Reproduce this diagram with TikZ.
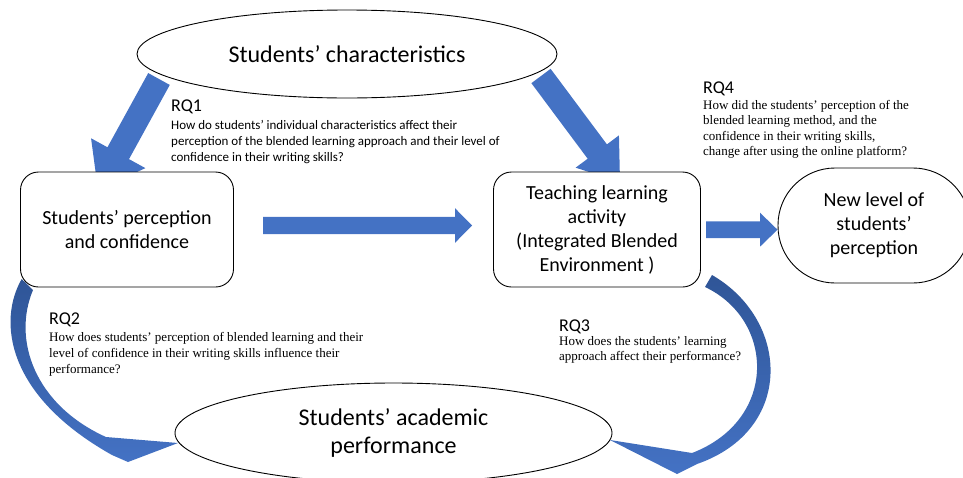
\documentclass[tikz,border=0pt]{standalone}
\usepackage{fontspec}
\setmainfont{Carlito}
\newfontfamily\timesfont{Liberation Serif}
\usetikzlibrary{calc,shapes.geometric}
\definecolor{officeblue}{HTML}{4472C4}
\definecolor{deepblue}{HTML}{2F5597}
\pgfdeclarelayer{arrowlayer}
\pgfsetlayers{arrowlayer,main}
% start, tip, shaft half width, head half width, head length
\newcommand\blockarrow[5]{%
  \path (#2) coordinate (baT) ($(#2)!#5!(#1)$) coordinate (baB);
  \fill[officeblue] ($(#1)!#3!90:(baT)$) -- ($(baB)!#3!90:(baT)$) -- ($(baB)!#4!90:(baT)$)
    -- (baT) -- ($(baB)!#4!-90:(baT)$) -- ($(baB)!#3!-90:(baT)$) -- ($(#1)!#3!-90:(baT)$) -- cycle;
}
\begin{document}
\begin{tikzpicture}[x=1pt,y=-1pt,
  outline/.style={draw=black, line width=0.9pt, fill=white, inner sep=0pt, align=center},
  oval/.style={outline, ellipse, font=\fontsize{24}{28}\selectfont},
  roundbox/.style={outline, rectangle, rounded corners=18pt, font=\fontsize{20}{24}\selectfont},
  rqlabel/.style={anchor=base west, inner sep=0pt, font=\fontsize{18}{20}\selectfont},
  rqsans/.style={anchor=north west, inner sep=0pt, align=left, font=\fontsize{13}{16}\selectfont},
  rqserif/.style={anchor=north west, inner sep=0pt, align=left, font=\timesfont\fontsize{13}{15.6}\selectfont},
  curvedarrow/.style={top color=deepblue, bottom color=officeblue, draw=none}
]
\useasboundingbox (0,0) rectangle (963,477);
\clip (0,0) rectangle (963,477);

% main shapes
\node[oval, minimum width=420pt, minimum height=88pt] (chars) at (347,54) {Students’ characteristics};
\node[oval, minimum width=437pt, minimum height=100pt] (perf) at (393.5,433) {Students’ academic\\performance};
\node[roundbox, minimum width=213pt, minimum height=115pt] (percep) at (127,229.5) {Students’ perception\\and confidence};
\node[roundbox, minimum width=207pt, minimum height=115pt] (tla) at (597,229.5) {Teaching learning\\activity\\(Integrated Blended\\Environment )};
\node[roundbox, rounded corners=57pt, minimum width=192pt, minimum height=115pt] (newlvl) at (874,225.5) {New level of\\students’\\perception};

% research questions
\node[rqlabel] (rq1) at (171,111.5) {RQ1};
\node[rqsans] (rq1text) at (171,117.8) {\strut How do students’ individual characteristics affect their\\perception of the blended learning approach and their level of\\confidence in their writing skills?};
\node[rqlabel] (rq2) at (49,324) {RQ2};
\node[rqserif] (rq2text) at (49,330.8) {\strut How does students’ perception of blended learning and their\\level of confidence in their writing skills influence their\\performance?};
\node[rqlabel] (rq3) at (559,331) {RQ3};
\node[rqserif] (rq3text) at (559,334) {\strut How does the students’ learning\\approach affect their performance?};
\node[rqlabel] (rq4) at (703,93.3) {RQ4};
\node[rqserif] (rq4text) at (703,98) {\strut How did the students’ perception of the\\blended learning method, and the\\confidence in their writing skills,\\change after using the online platform?};

\begin{pgfonlayer}{arrowlayer}
  % straight block arrows
  \coordinate (a1s) at (159,79);   \coordinate (a1t) at (98,190);
  \blockarrow{a1s}{a1t}{12.3pt}{31pt}{42pt}
  \coordinate (a2s) at (541,76);   \coordinate (a2t) at (620,182);
  \blockarrow{a2s}{a2t}{12pt}{27pt}{38pt}
  \coordinate (a3s) at (263,225.5); \coordinate (a3t) at (472,225.5);
  \blockarrow{a3s}{a3t}{8.7pt}{17.3pt}{17pt}
  \coordinate (a4s) at (706,229.7); \coordinate (a4t) at (777.5,229.7);
  \blockarrow{a4s}{a4t}{8.3pt}{17pt}{17.5pt}
  % curved arrows
  \shade[curvedarrow] (21.7,279) .. controls (-2,320) and (5,395) .. (112,455)
     -- (128,462) -- (178,443) -- (106,437)
     .. controls (35,405) and (12,340) .. (33,290) -- cycle;
  \shade[curvedarrow] (712,275) .. controls (790,320) and (795,430) .. (697,464)
     -- (677,474) -- (610,440) -- (692,453)
     .. controls (778,420) and (775,320) .. (705,287) -- cycle;
\end{pgfonlayer}
\end{tikzpicture}
\end{document}
